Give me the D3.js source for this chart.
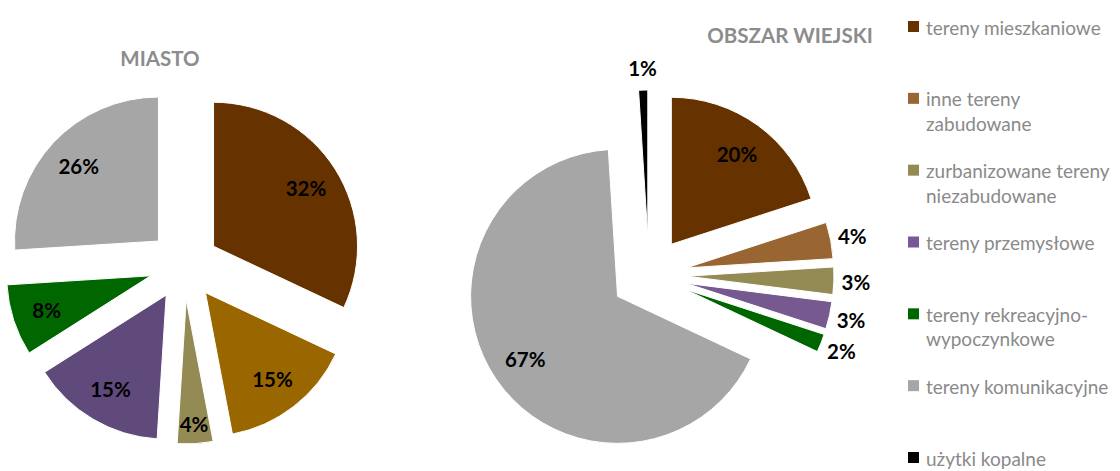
<!DOCTYPE html>
<html>
<head>
<meta charset="utf-8">
<script src="https://cdn.jsdelivr.net/npm/d3@7/dist/d3.min.js"></script>
<style>
  html, body { margin: 0; padding: 0; background: #fff; }
  svg { display: block; }
</style>
</head>
<body>
<svg id="chart" width="1120" height="471"></svg>
<script>
// ---- data ----
const categories = [
  "tereny mieszkaniowe",
  "inne tereny zabudowane",
  "zurbanizowane tereny niezabudowane",
  "tereny przemysłowe",
  "tereny rekreacyjno-wypoczynkowe",
  "tereny komunikacyjne",
  "użytki kopalne"
];
const legendLines = [
  ["tereny mieszkaniowe"],
  ["inne tereny", "zabudowane"],
  ["zurbanizowane tereny", "niezabudowane"],
  ["tereny przemysłowe"],
  ["tereny rekreacyjno-", "wypoczynkowe"],
  ["tereny komunikacyjne"],
  ["użytki kopalne"]
];
const miastoValues = [32, 15, 4, 15, 8, 26, 0];
const wiejskiValues = [20, 4, 3, 3, 2, 67, 1];
const pieTitles = ["MIASTO", "OBSZAR WIEJSKI"];

const legendColors = ["#663300", "#996633", "#948A54", "#77599A", "#006600", "#A6A6A6", "#000000"];
const miastoColors = ["#663300", "#996600", "#948A54", "#604A7B", "#006600", "#A6A6A6", "#000000"];
const wiejskiColors = ["#663300", "#996633", "#948A54", "#76598F", "#006600", "#A6A6A6", "#000000"];

const svg = d3.select("#chart");
const FONT = "Lato, 'Open Sans', sans-serif";

const pieGen = d3.pie().sort(null).value(d => d.value);

function drawPie(cfg) {
  const data = categories.map((c, i) => ({ cat: c, value: cfg.values[i], color: cfg.colors[i] }))
    .filter(d => d.value > 0);
  const arcs = pieGen(data);
  const arc = d3.arc().innerRadius(0).outerRadius(cfg.r);
  const g = svg.append("g").attr("transform", `translate(${cfg.cx},${cfg.cy})`);

  arcs.forEach(a => {
    const mid = (a.startAngle + a.endAngle) / 2;
    const dx = Math.sin(mid), dy = -Math.cos(mid);
    const ox = dx * cfg.explode, oy = dy * cfg.explode;
    g.append("path")
      .attr("d", arc(a))
      .attr("transform", `translate(${ox},${oy})`)
      .attr("fill", a.data.color)
      .attr("stroke", "#fff")
      .attr("stroke-width", 1);

    const small = a.data.value < 5;
    let dist;
    if (small && cfg.outsideSmall) dist = cfg.r + 22;
    else if (small) dist = cfg.r * 0.86;
    else dist = cfg.r * 0.76;
    g.append("text")
      .attr("x", ox + dx * dist)
      .attr("y", oy + dy * dist)
      .attr("text-anchor", "middle")
      .attr("dominant-baseline", "central")
      .attr("font-family", FONT)
      .attr("font-weight", "bold")
      .attr("font-size", 20.5)
      .attr("fill", "#000")
      .text(a.data.value + "%");
  });

  svg.append("text")
    .attr("x", cfg.tx).attr("y", cfg.ty)
    .attr("text-anchor", "middle")
    .attr("font-family", FONT)
    .attr("font-weight", "bold")
    .attr("font-size", 20.5)
    .attr("fill", "#8C8C8C")
    .text(cfg.title);
}

drawPie({ values: miastoValues, colors: miastoColors, cx: 184, cy: 265, r: 144, explode: 35,
          outsideSmall: false, title: pieTitles[0], tx: 160, ty: 66 });
drawPie({ values: wiejskiValues, colors: wiejskiColors, cx: 649, cy: 275, r: 147, explode: 38,
          outsideSmall: true, title: pieTitles[1], tx: 790, ty: 43 });

// ---- legend ----
const legendY = d3.scalePoint().domain(categories).range([27, 458]);
const lg = svg.append("g");
categories.forEach((c, i) => {
  const y = legendY(c);
  lg.append("rect")
    .attr("x", 908).attr("y", y - 6)
    .attr("width", 11).attr("height", 11)
    .attr("fill", legendColors[i]);
  legendLines[i].forEach((line, j) => {
    lg.append("text")
      .attr("x", 926).attr("y", y + j * 24.5)
      .attr("dominant-baseline", "central")
      .attr("font-family", FONT)
      .attr("font-size", 19)
      .attr("fill", "#8A8A8A")
      .text(line);
  });
});
</script>
</body>
</html>
